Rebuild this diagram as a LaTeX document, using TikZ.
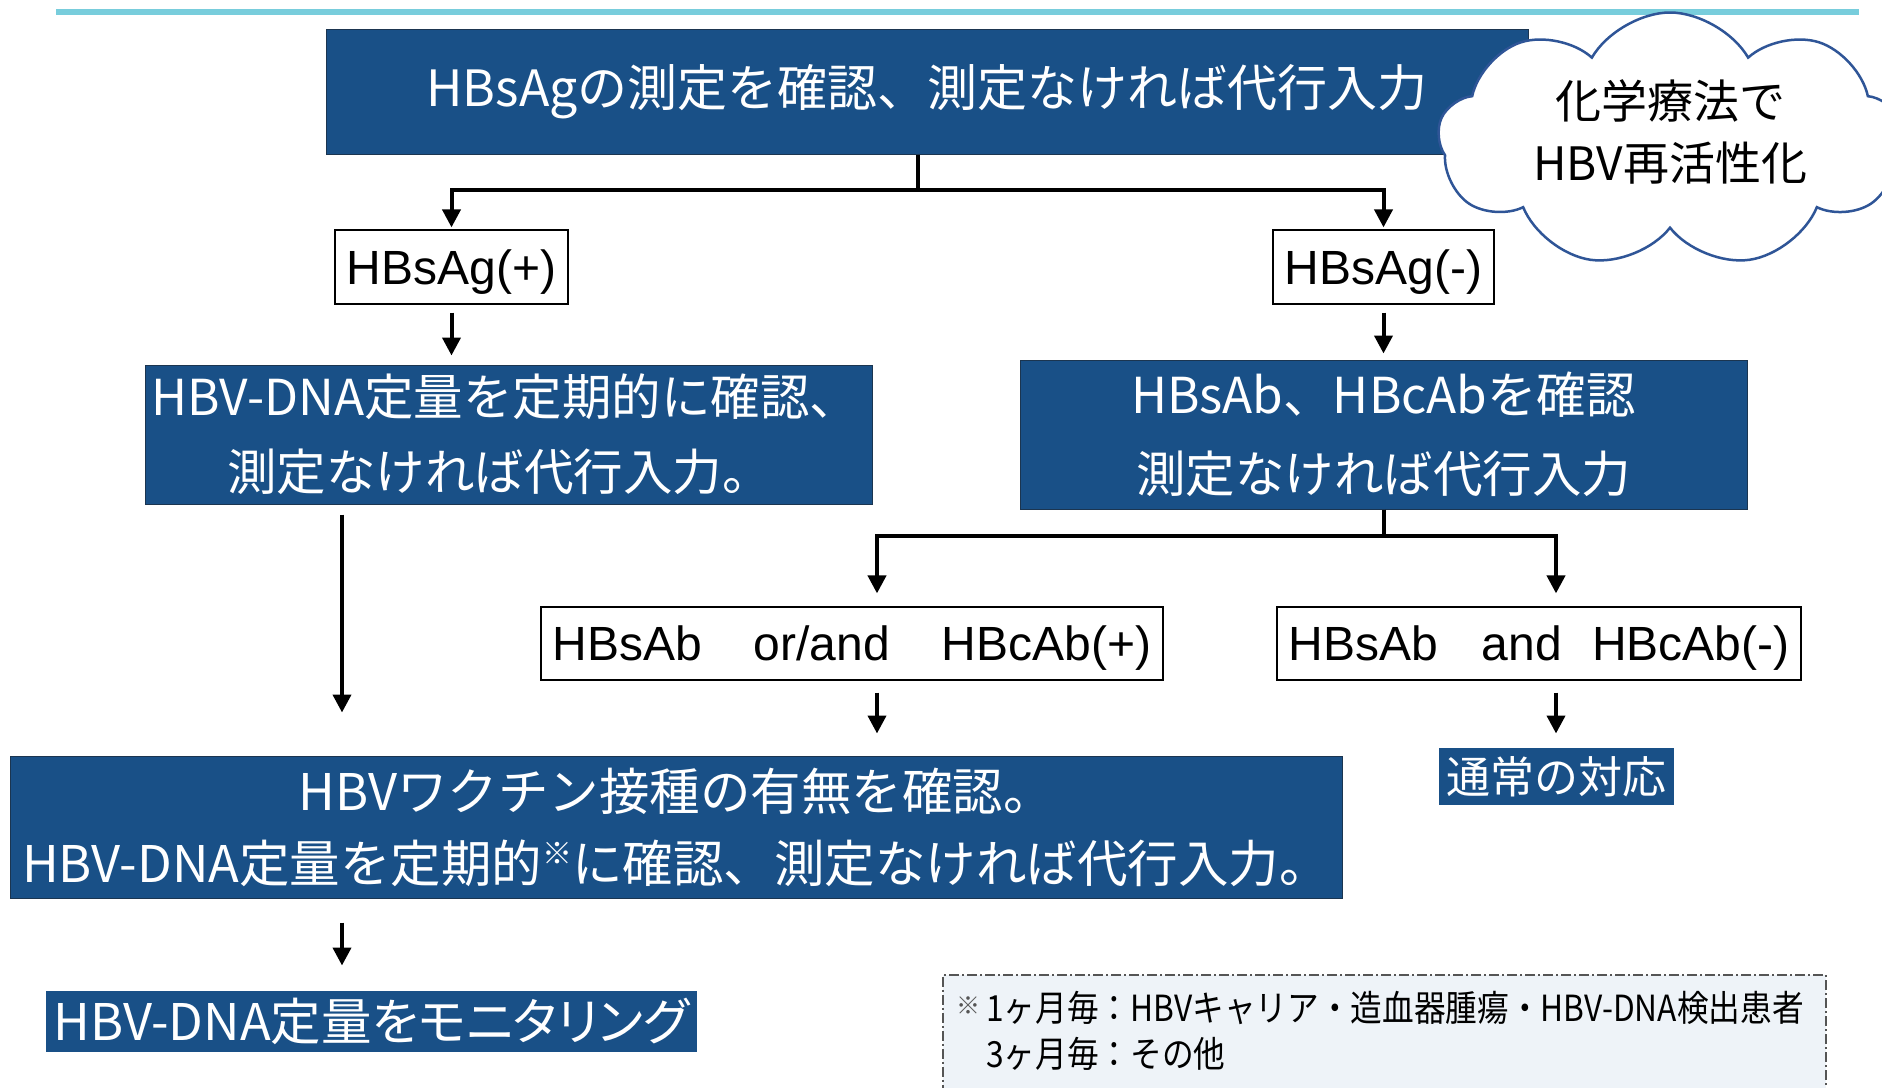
\documentclass[tikz,border=0pt]{standalone}
\usepackage{fontspec}
\setmainfont{Liberation Sans}
\newfontfamily\jp{Noto Sans CJK JP}
\newfontfamily\jpp[RawFeature=+palt]{Noto Sans CJK JP}
\newfontfamily\jpn[FakeStretch=0.88]{Noto Sans CJK JP}
\usetikzlibrary{arrows.meta,shapes.symbols,calc}
\definecolor{hbblue}{HTML}{195087}
\definecolor{hbedge}{HTML}{1B3550}
\definecolor{cloudblue}{HTML}{2F5597}
\definecolor{topline}{HTML}{78CDDC}
\definecolor{notefill}{HTML}{EEF3F8}
\definecolor{noteedge}{HTML}{555555}
\begin{document}
\begin{tikzpicture}[x=1pt,y=-1pt,
  bluebox/.style={fill=hbblue, draw=hbedge, line width=1pt, text=white, align=center, inner sep=0pt,
    font=\jp\fontsize{49.5}{75}\selectfont},
  wbox/.style={fill=white, draw=black, line width=1.2pt, inner sep=0pt, text depth=0pt, font=\fontsize{48}{56}\selectfont},
  conn/.style={line width=4pt, draw=black},
  arr/.style={conn, -{Triangle[length=18pt,width=18pt]}},
  notebox/.style={fill=notefill, draw=noteedge, line width=1.5pt, dash pattern=on 10pt off 3pt on 2pt off 3pt},
  notetext/.style={font=\jpn\fontsize{36}{40}\selectfont, anchor=west, inner sep=0pt}
]
\useasboundingbox (0,0) rectangle (1882,1087);
\clip (0,0) rectangle (1882,1087);
\fill[white] (0,0) rectangle (1882,1087);

% top rule
\draw[topline, line width=6pt] (56,12) -- (1859,12);

% boxes
\node[bluebox, minimum width=1202, minimum height=125, font=\jp\fontsize{50}{60}\selectfont] (top) at (927,91.5) {HBsAgの測定を確認、測定なければ代行入力};
\node[wbox, minimum width=233, minimum height=74] (pos) at (451.5,267) {HBsAg(+)};
\node[wbox, minimum width=221, minimum height=74] (neg) at (1383.5,267) {HBsAg(-)};
\node[bluebox, minimum width=727, minimum height=139] (dna) at (508.5,434.5) {\hspace*{6pt}HBV-DNA定量を定期的に確認、\hspace*{12pt}\\測定なければ代行入力。\hspace*{18pt}};
\node[bluebox, minimum width=727, minimum height=149, font=\jp\fontsize{49.5}{79}\selectfont] (ab) at (1383.5,434.5) {HBsAb、HBcAbを確認\\測定なければ代行入力};
\node[wbox, minimum width=622, minimum height=73] (orand) at (852,643.5) {HBsAb\hspace{52pt}or/and\hspace{52pt}HBcAb(+)};
\node[wbox, minimum width=524, minimum height=73] (andn) at (1539,643.5) {HBsAb\hspace{44pt}and\hspace{30pt}HBcAb(-)};
\node[bluebox, minimum width=1332, minimum height=142, font=\jp\fontsize{50.5}{72}\selectfont] (vac) at (676,827)
  {HBVワクチン接種の有無を確認。\\HBV-DNA定量を定期的\raisebox{0.35em}{\fontsize{30}{30}\selectfont ※}に確認、測定なければ代行入力。};
\node[bluebox, draw=none, minimum width=235, minimum height=57, font=\jp\fontsize{44}{50}\selectfont] (norm) at (1556.5,776.5) {通常の対応};
\node[bluebox, draw=none, minimum width=651, minimum height=61, font=\jpp\fontsize{50.5}{55}\selectfont] (mon) at (371.5,1021.5) {HBV-DNA定量をモニタリング};

% note
\node[notebox, anchor=north west, minimum width=883, minimum height=140] (note) at (942,974) {};
\node[notetext, font=\jp\fontsize{24}{30}\selectfont, text=noteedge] (nmark) at (956,1006) {※};
\node[notetext] (n1) at (986,1008) {1ヶ月毎：HBVキャリア・造血器腫瘍・HBV-DNA検出患者};
\node[notetext] (n2) at (986,1054) {3ヶ月毎：その他};

% cloud
\node[cloud, cloud puffs=9, cloud puff arc=120, aspect=1.8, draw=cloudblue, line width=2.5pt, fill=white,
  minimum width=464, minimum height=255] (cloud) at (1670,140) {};
\node[font=\jp\fontsize{46}{62}\selectfont, align=center, inner sep=0pt] (ctext) at (1670,132) {化学療法で\\HBV再活性化};

% connectors
\coordinate (j1) at (918,190);
\coordinate (cL) at (342,0);
\coordinate (j2l) at (877,536);
\coordinate (j2r) at (1556,536);
\draw[conn] (top.south -| j1) -- (j1);
\draw[arr, shorten >=2pt] (j1) -| (pos.north);
\draw[arr, shorten >=2pt] (j1) -| (neg.north);
\draw[arr, shorten <=8pt, shorten >=9pt] (pos.south) -- (pos.south |- dna.north);
\draw[arr, shorten <=8pt, shorten >=6pt] (neg.south) -- (neg.south |- ab.north);
\draw[arr, shorten >=13pt] (ab.south) |- (j2l) -- (j2l |- orand.north);
\draw[arr, shorten >=13pt] (ab.south) |- (j2r) -- (j2r |- andn.north);
\draw[arr, shorten <=10pt, shorten >=43pt] (dna.south -| cL) -- (vac.north -| cL);
\draw[arr, shorten <=12pt, shorten >=22pt] (orand.south -| j2l) -- (vac.north -| j2l);
\draw[arr, shorten <=12pt, shorten >=14pt] (andn.south -| j2r) -- (norm.north -| j2r);
\draw[arr, shorten <=24pt, shorten >=25pt] (vac.south -| cL) -- (mon.north -| cL);
\end{tikzpicture}
\end{document}
